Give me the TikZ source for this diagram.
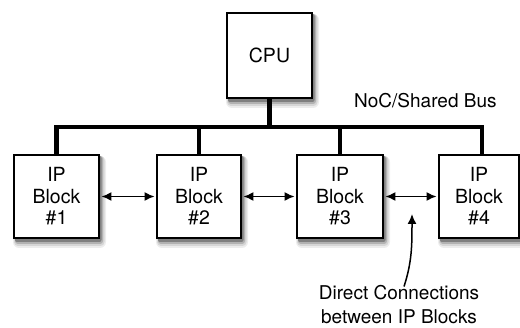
\documentclass[tikz,border=0pt]{standalone}
\usepackage{fontspec}
\setmainfont{TeX Gyre Heros}
\usetikzlibrary{arrows.meta}
\newcommand\myboxshadow[4]{%
  \fill[black!7, rounded corners=6pt] ({#1-1},{#2+1}) rectangle ({#3+7},{#4+10});
  \fill[black!16, rounded corners=4pt] ({#1},{#2+1}) rectangle ({#3+5.5},{#4+8});
  \fill[black!30, rounded corners=3pt] ({#1+1},{#2+1}) rectangle ({#3+4},{#4+6});
  \fill[black!50, rounded corners=2pt] ({#1+1},{#2+1}) rectangle ({#3+2.5},{#4+4});
}
\begin{document}
\begin{tikzpicture}[x=1pt,y=-1pt,
  blockbox/.style={draw=black, line width=1.9pt, fill=white, align=center,
    inner sep=0pt, font=\fontsize{19.5}{21.5}\selectfont},
  busline/.style={line width=4.5pt, line join=miter},
  link/.style={line width=1.5pt, {Latex[length=10pt,width=9pt]}-{Latex[length=10pt,width=9pt]}},
  callout/.style={line width=1.5pt, -{Latex[length=10pt,width=9pt]}},
  lbl/.style={font=\fontsize{19}{24}\selectfont, align=center, inner sep=0pt}]
\useasboundingbox (0,0) rectangle (520,328);
% soft shadows behind the boxes
\myboxshadow{227}{13}{312}{98}
\myboxshadow{14}{155}{99}{238}
\myboxshadow{157}{155}{241}{238}
\myboxshadow{297}{155}{383}{238}
\myboxshadow{439}{155}{519}{238}
% boxes
\node[blockbox, minimum width=85pt, minimum height=85pt] (cpu) at (269.5,55.5) {CPU};
\node[blockbox, minimum width=85pt, minimum height=83pt] (b1) at (56.5,196.5) {IP\\Block\\\#1};
\node[blockbox, minimum width=84pt, minimum height=83pt] (b2) at (199,196.5) {IP\\Block\\\#2};
\node[blockbox, minimum width=86pt, minimum height=83pt] (b3) at (340,196.5) {IP\\Block\\\#3};
\node[blockbox, minimum width=80pt, minimum height=83pt] (b4) at (479,196.5) {IP\\Block\\\#4};
% bus
\coordinate (busL) at (56.5,127);
\coordinate (busR) at (482,127);
\draw[busline] (b1.north) -- (busL) -- (busR) -- (busR |- b4.north);
\draw[busline] (b2.north) -- (b2.north |- busL);
\draw[busline] (b3.north) -- (b3.north |- busL);
\draw[busline] (cpu.south) -- (cpu.south |- busL);
\node[lbl, anchor=west] (noc) at (354,101) {NoC/Shared Bus};
% direct links
\draw[link, shorten <=1.5pt, shorten >=1.5pt] (b1.east) -- (b2.west);
\draw[link, shorten <=1.5pt, shorten >=1.5pt] (b2.east) -- (b3.west);
\draw[link, shorten <=1.5pt, shorten >=1.5pt] (b3.east) -- (b4.west);
% callout
\node[lbl] (dc) at (399,305) {Direct Connections\\between IP Blocks};
\coordinate (tip) at (412,214);
\draw[callout] ([xshift=5pt,yshift=-1pt]dc.north) .. controls (412,262) and (412,245) .. (tip);
\end{tikzpicture}
\end{document}
